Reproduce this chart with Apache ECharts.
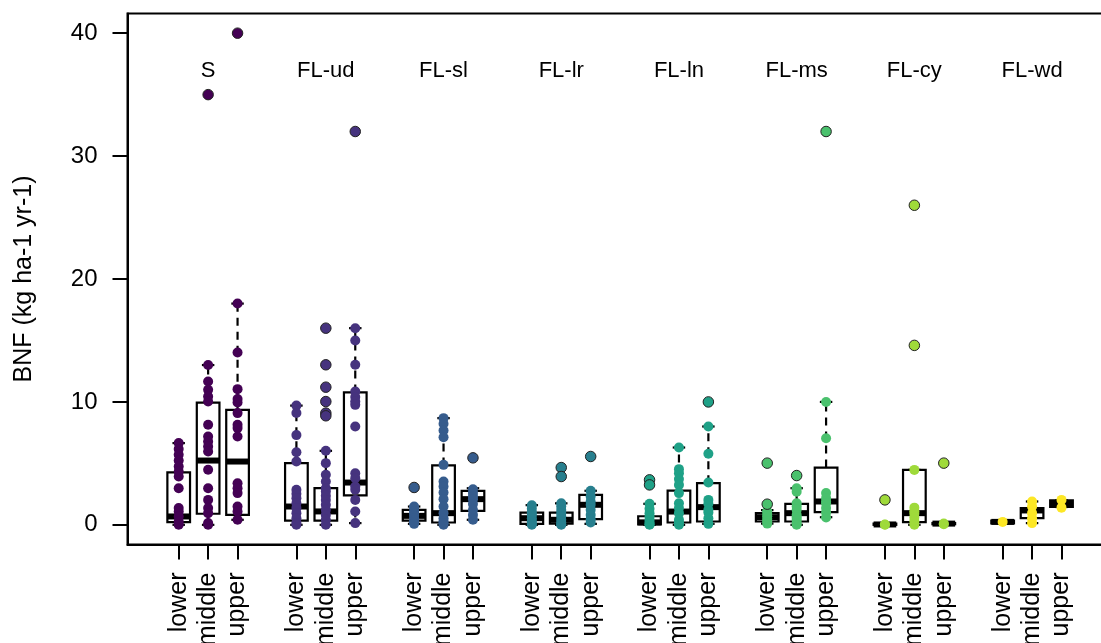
<!DOCTYPE html>
<html><head><meta charset="utf-8">
<script src="https://cdn.jsdelivr.net/npm/echarts@6/dist/echarts.min.js"></script>
<style>html,body{margin:0;padding:0;background:#fff}#c{width:1101px;height:643px}</style>
</head><body><div id="c"></div>
<script>
// ---- data ----
const groups = ['S', 'FL-ud', 'FL-sl', 'FL-lr', 'FL-ln', 'FL-ms', 'FL-cy', 'FL-wd'];
const zones = ['lower', 'middle', 'upper'];
const colors = ['#440154', '#46337E', '#365C8D', '#277F8E', '#1FA187', '#4AC16D', '#9FDA3A', '#FDE725'];
const yTicks = [0, 10, 20, 30, 40];

// box stats per zone: [whisker low, Q1, median, Q3, whisker high]
const S_box    = [[0, 0.22, 0.68, 4.26, 6.65], [0, 0.9, 5.23, 9.95, 13.0], [0.41, 0.81, 5.15, 9.36, 18.0]];
const FLud_box = [[0, 0.35, 1.49, 5.02, 9.7], [0, 0.35, 1.09, 2.98, 6.02], [0.14, 2.39, 3.44, 10.77, 16.0]];
const FLsl_box = [[0.08, 0.35, 0.73, 1.22, 1.49], [0, 0.19, 0.95, 4.83, 8.68], [0.41, 1.14, 2.09, 2.77, 2.98]];
const FLlr_box = [[0, 0.08, 0.54, 1.0, 1.6], [0, 0.1, 0.41, 1.0, 1.75], [0.08, 0.46, 1.63, 2.44, 2.77]];
const FLln_box = [[0, 0.03, 0.2, 0.7, 1.71], [0, 0.19, 1.08, 2.79, 6.29], [0.08, 0.27, 1.44, 3.39, 8.0]];
const FLms_box = [[0.1, 0.27, 0.62, 0.95, 1.2], [0, 0.27, 0.95, 1.71, 2.98], [0.62, 1.03, 1.9, 4.66, 10.0]];
const FLcy_box = [[0, 0, 0.03, 0.1, 0.1], [0, 0.22, 0.95, 4.47, 4.47], [0.05, 0.05, 0.1, 0.15, 0.15]];
const FLwd_box = [[0.12, 0.12, 0.24, 0.35, 0.35], [0.14, 0.54, 1.17, 1.36, 1.9], [1.45, 1.45, 1.71, 2.0, 2.0]];

// individual observations per zone
const S_pts = [
  [6.65, 6.16, 5.70, 5.23, 4.75, 4.34, 3.93, 2.98, 1.36, 1.09, 0.68, 0.27, 0],
  [13.0, 11.66, 10.98, 10.44, 10.03, 8.14, 7.19, 6.78, 6.37, 5.96, 4.48, 2.98, 2.03, 1.36, 0.95, 0.14, 0],
  [18.0, 14.02, 11.04, 10.23, 9.95, 9.09, 8.14, 7.87, 7.19, 3.39, 2.98, 2.58, 1.49, 1.09, 0.41]
];
const FLud_pts = [
  [9.7, 9.1, 7.3, 5.9, 5.15, 2.85, 2.52, 2.17, 1.76, 1.36, 0.95, 0.54, 0.14, 0],
  [6.02, 5.02, 4.07, 3.53, 2.98, 2.71, 2.36, 2.03, 1.63, 1.22, 0.81, 0.41, 0],
  [16.0, 15.0, 13.02, 10.85, 10.39, 10.03, 9.76, 8.0, 4.2, 3.8, 3.12, 2.85, 2.03, 1.09, 0.14]
];
const FLsl_pts = [
  [1.49, 1.36, 1.1, 0.95, 0.75, 0.54, 0.35, 0.19, 0.08],
  [8.68, 8.22, 7.67, 7.13, 4.88, 3.53, 3.12, 2.63, 2.09, 1.49, 0.95, 0.54, 0.3, 0.14, 0],
  [2.9, 2.58, 2.3, 2.09, 1.7, 1.22, 0.81, 0.41]
];
const FLlr_pts = [
  [1.6, 1.3, 1.0, 0.8, 0.54, 0.3, 0.08, 0],
  [1.75, 1.5, 1.2, 0.95, 0.7, 0.41, 0.2, 0.05, 0],
  [2.77, 2.31, 1.9, 1.63, 1.22, 0.81, 0.46, 0.19]
];
const FLln_pts = [
  [1.71, 1.3, 0.95, 0.68, 0.4, 0.2, 0.05, 0],
  [6.29, 4.53, 4.2, 3.72, 3.25, 2.58, 1.76, 1.36, 0.95, 0.41, 0.2, 0],
  [8.0, 5.78, 3.44, 2.03, 1.71, 1.22, 1.0, 0.54, 0.08]
];
const FLms_pts = [
  [1.1, 0.9, 0.7, 0.5, 0.3, 0.1],
  [2.98, 2.7, 1.76, 1.5, 1.22, 0.81, 0.6, 0.41, 0.15, 0],
  [10.0, 7.05, 2.58, 2.17, 1.9, 1.76, 1.36, 1.0, 0.6]
];
const FLcy_pts = [
  [0.03, 0],
  [4.47, 1.4, 1.1, 0.9, 0.6, 0.3, 0],
  [0.1, 0.05]
];
const FLwd_pts = [
  [0.24],
  [1.9, 1.49, 0.95, 0.54, 0.14],
  [2.03, 1.4]
];

// outliers per zone
const S_out    = [[], [35], [40]];
const FLud_out = [[], [16.0, 13.02, 11.2, 10.03, 9.09, 8.87], [32]];
const FLsl_out = [[3.04], [], [5.45]];
const FLlr_out = [[], [4.66, 3.93], [5.56]];
const FLln_out = [[3.66, 3.25], [], [10.0]];
const FLms_out = [[5.02, 1.68], [4.01], [32]];
const FLcy_out = [[2.03], [26, 14.6], [5.02]];
const FLwd_out = [[], [], []];

const allBox = [S_box, FLud_box, FLsl_box, FLlr_box, FLln_box, FLms_box, FLcy_box, FLwd_box];
const allPts = [S_pts, FLud_pts, FLsl_pts, FLlr_pts, FLln_pts, FLms_pts, FLcy_pts, FLwd_pts];
const allOut = [S_out, FLud_out, FLsl_out, FLlr_out, FLln_out, FLms_out, FLcy_out, FLwd_out];

// ---- build series data ----
const boxData = [], ptData = [], outData = [], labelData = [], tickPos = [];
groups.forEach((g, gi) => {
  labelData.push([gi * 4 + 2, 36.9, gi]);
  zones.forEach((z, zi) => {
    const pos = gi * 4 + zi + 1;
    tickPos.push(pos);
    boxData.push([pos].concat(allBox[gi][zi]));
    allPts[gi][zi].forEach(v => ptData.push({ value: [pos, v], itemStyle: { color: colors[gi] } }));
    allOut[gi][zi].forEach(v => outData.push({ value: [pos, v], itemStyle: { color: colors[gi] } }));
  });
});

const FONT = 'Liberation Sans, Arial, sans-serif';
const BOXW = 0.77;

function renderBox(params, api) {
  const x = api.value(0);
  const lo = api.coord([x, api.value(1)]);
  const q1 = api.coord([x, api.value(2)]);
  const md = api.coord([x, api.value(3)]);
  const q3 = api.coord([x, api.value(4)]);
  const hi = api.coord([x, api.value(5)]);
  const half = api.size([BOXW, 0])[0] / 2;
  const cx = lo[0];
  const stap = half * 0.55;
  const dash = { stroke: '#000', lineWidth: 2.2, lineDash: [8, 6], fill: null };
  const solid = { stroke: '#000', lineWidth: 2.2, fill: null };
  const ch = [];
  if (hi[1] < q3[1]) ch.push({ type: 'line', shape: { x1: cx, y1: q3[1], x2: cx, y2: hi[1] }, style: dash });
  if (lo[1] > q1[1]) ch.push({ type: 'line', shape: { x1: cx, y1: q1[1], x2: cx, y2: lo[1] }, style: dash });
  ch.push({ type: 'line', shape: { x1: cx - stap, y1: hi[1], x2: cx + stap, y2: hi[1] }, style: solid });
  ch.push({ type: 'line', shape: { x1: cx - stap, y1: lo[1], x2: cx + stap, y2: lo[1] }, style: solid });
  ch.push({ type: 'rect', shape: { x: cx - half, y: q3[1], width: half * 2, height: q1[1] - q3[1] },
            style: { fill: '#fff', stroke: '#000', lineWidth: 2.2 } });
  ch.push({ type: 'line', shape: { x1: cx - half, y1: md[1], x2: cx + half, y2: md[1] },
            style: { stroke: '#000', lineWidth: 6, lineCap: 'butt' } });
  return { type: 'group', children: ch };
}

function renderLabel(params, api) {
  const p = api.coord([api.value(0), api.value(1)]);
  return { type: 'text', style: { text: groups[api.value(2)], x: p[0], y: p[1], align: 'center',
           verticalAlign: 'middle', fontSize: 22, fontFamily: FONT, fill: '#000' } };
}

const chart = echarts.init(document.getElementById('c'), null, { renderer: 'canvas' });
chart.setOption({
  animation: false,
  backgroundColor: '#fff',
  grid: { left: 127.5, top: 13.5, right: -11.7, bottom: 98.5, containLabel: false, outerBoundsMode: 'none',
          show: true, borderColor: '#000', borderWidth: 2, backgroundColor: 'transparent' },
  xAxis: {
    type: 'value', min: -0.74, max: 32.74,
    splitLine: { show: false },
    axisLine: { show: true, onZero: false, lineStyle: { color: '#000', width: 2 } },
    axisTick: { show: true, customValues: tickPos, length: 15, lineStyle: { color: '#000', width: 2 } },
    axisLabel: { show: true, customValues: tickPos, rotate: 90, margin: 28, fontSize: 25, fontFamily: FONT, color: '#000',
                 hideOverlap: false, formatter: v => zones[(Math.round(v) - 1) % 4] }
  },
  yAxis: {
    type: 'value', min: -1.6, max: 41.6,
    name: 'BNF (kg ha-1 yr-1)', nameLocation: 'middle', nameGap: 91,
    nameTextStyle: { fontSize: 25, fontFamily: FONT, color: '#000' },
    splitLine: { show: false },
    axisLine: { show: true, onZero: false, lineStyle: { color: '#000', width: 2 } },
    axisTick: { show: true, customValues: yTicks, length: 15, lineStyle: { color: '#000', width: 2 } },
    axisLabel: { show: true, customValues: yTicks, margin: 30, fontSize: 24, fontFamily: FONT, color: '#000' }
  },
  series: [
    { type: 'custom', name: 'boxes', renderItem: renderBox, data: boxData, z: 2, silent: true,
      encode: { x: 0, y: [1, 2, 3, 4, 5] }, clip: false },
    { type: 'scatter', name: 'points', data: ptData, symbol: 'circle', symbolSize: 10, z: 3, silent: true,
      itemStyle: { opacity: 1 } },
    { type: 'scatter', name: 'outliers', data: outData, symbol: 'circle', symbolSize: 10.5, z: 4, silent: true,
      itemStyle: { opacity: 1, borderColor: '#222', borderWidth: 1 } },
    { type: 'custom', name: 'labels', renderItem: renderLabel, data: labelData, z: 5, silent: true,
      encode: { x: 0, y: 1 } }
  ]
});
</script></body></html>
